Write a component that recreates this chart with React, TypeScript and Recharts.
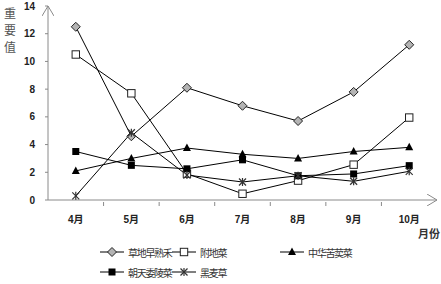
import { LineChart, Line, XAxis, YAxis, Legend } from 'recharts'

const months = ['4月', '5月', '6月', '7月', '8月', '9月', '10月']
const caodiZaoshuhe = [12.5, 4.6, 8.1, 6.8, 5.7, 7.8, 11.2]
const fudicai = [10.5, 7.7, 1.9, 0.45, 1.4, 2.55, 5.95]
const zhonghuaKumaicai = [2.1, 3.0, 3.75, 3.3, 3.0, 3.5, 3.8]
const chaotianWeilingcai = [3.5, 2.5, 2.25, 2.9, 1.75, 1.88, 2.48]
const heimaicao = [0.3, 4.85, 1.8, 1.3, 1.75, 1.35, 2.07]
const yTicks = [0, 2, 4, 6, 8, 10, 12, 14]

const seriesNames = ['草地早熟禾', '附地菜', '中华苦荬菜', '朝天委陵菜', '黑麦草']

const data = months.map((m, i) => ({
  month: m,
  s0: caodiZaoshuhe[i],
  s1: fudicai[i],
  s2: zhonghuaKumaicai[i],
  s3: chaotianWeilingcai[i],
  s4: heimaicao[i],
}))

const AXIS = '#8a8a8a'
const TICK_FONT = '"Liberation Sans", "Noto Sans CJK SC", sans-serif'
const CJK_FONT = '"Noto Sans CJK SC", sans-serif'

function Marker({ kind, cx, cy }: { kind: number; cx: number; cy: number }) {
  if (cx == null || cy == null) return null
  switch (kind) {
    case 0:
      return <path d={`M${cx},${cy - 4.5}L${cx + 4.5},${cy}L${cx},${cy + 4.5}L${cx - 4.5},${cy}Z`} fill="#b4b4b4" stroke="#222" strokeWidth={1} />
    case 1:
      return <rect x={cx - 3.7} y={cy - 3.7} width={7.4} height={7.4} fill="#fff" stroke="#222" strokeWidth={1} />
    case 2:
      return <path d={`M${cx},${cy - 4.5}L${cx + 4},${cy + 3}L${cx - 4},${cy + 3}Z`} fill="#000" />
    case 3:
      return <rect x={cx - 3.5} y={cy - 3.5} width={7} height={7} fill="#000" />
    default:
      return (
        <g stroke="#333" strokeWidth={1.2}>
          <line x1={cx - 3.5} y1={cy - 3.5} x2={cx + 3.5} y2={cy + 3.5} />
          <line x1={cx - 3.5} y1={cy + 3.5} x2={cx + 3.5} y2={cy - 3.5} />
          <line x1={cx} y1={cy - 4} x2={cx} y2={cy + 4} />
        </g>
      )
  }
}

const makeDot = (kind: number) => (props: any) => (
  <Marker key={`${kind}-${props.index}`} kind={kind} cx={props.cx} cy={props.cy} />
)

// month label at band centre, small tick at the band boundary
function MonthTick(props: any) {
  const { x, y, payload, index } = props
  const off = payload.offset ?? 0
  return (
    <g>
      {index > 0 && <line x1={x - off} y1={y} x2={x - off} y2={y + 4} stroke={AXIS} />}
      <text x={x} y={y + 21} textAnchor="middle" fontSize={10} fontWeight="bold" fill="#222" fontFamily={TICK_FONT}>
        {payload.value}
      </text>
    </g>
  )
}

function LegendIcon({ kind }: { kind: number }) {
  return (
    <svg width={24} height={12} style={{ display: 'block' }}>
      <line x1={0} y1={6} x2={24} y2={6} stroke="#000" strokeWidth={1} />
      <Marker kind={kind} cx={12} cy={6} />
    </svg>
  )
}

function LegendContent() {
  const rows = [
    [{ k: 0, w: 72 }, { k: 1, w: 108 }, { k: 2, w: 110 }],
    [{ k: 3, w: 72 }, { k: 4, w: 108 }],
  ]
  return (
    <div>
      {rows.map((row, r) => (
        <div key={r} style={{ display: 'flex', height: 20, alignItems: 'center' }}>
          {row.map(it => (
            <div key={it.k} style={{ display: 'flex', alignItems: 'center', width: it.w }}>
              <LegendIcon kind={it.k} />
              <span style={{ marginLeft: 4, fontSize: 10, letterSpacing: -1.3, color: '#333', fontFamily: CJK_FONT, whiteSpace: 'nowrap' }}>
                {seriesNames[it.k]}
              </span>
            </div>
          ))}
        </div>
      ))}
    </div>
  )
}

export default function App() {
  return (
    <div style={{ position: 'absolute', left: 0, top: 0, width: 441, height: 284, background: '#fff' }}>
      <LineChart width={441} height={284} data={data} margin={{ top: 6, right: 4, left: 0, bottom: 0 }}>
        <defs>
          <marker id="axisArrow" viewBox="0 0 10 12" refX={10} refY={6} markerWidth={10} markerHeight={12} markerUnits="userSpaceOnUse" orient="auto-start-reverse">
            <path d="M0,0L10,6L0,12" fill="none" stroke={AXIS} strokeWidth={1} />
          </marker>
        </defs>
        <XAxis
          dataKey="month"
          scale="band"
          axisLine={{ stroke: AXIS, markerEnd: 'url(#axisArrow)' }}
          tickLine={false}
          tickSize={0}
          tick={<MonthTick />}
          interval={0}
          height={44}
        />
        <YAxis
          domain={[0, 14]}
          ticks={yTicks}
          interval={0}
          width={48}
          axisLine={{ stroke: AXIS, markerStart: 'url(#axisArrow)' }}
          tickLine={{ stroke: AXIS }}
          tickSize={3}
          tickMargin={10}
          tick={{ fontSize: 10, fontWeight: 'bold', fill: '#222', fontFamily: TICK_FONT }}
        />
        <Legend content={<LegendContent />} wrapperStyle={{ position: 'absolute', left: 100, top: 242, width: 320, height: 40 }} />
        {['s0', 's1', 's2', 's3', 's4'].map((key, i) => (
          <Line
            key={key}
            type="linear"
            dataKey={key}
            name={seriesNames[i]}
            stroke="#000"
            strokeWidth={1}
            dot={makeDot(i)}
            activeDot={false}
            isAnimationActive={false}
          />
        ))}
      </LineChart>
      <div style={{ position: 'absolute', left: 3, top: 4, width: 14, fontSize: 12, lineHeight: '17px', color: '#555', fontFamily: CJK_FONT, textAlign: 'center' }}>
        重<br />要<br />值
      </div>
      <div style={{ position: 'absolute', left: 418, top: 225, fontSize: 11, fontWeight: 'bold', color: '#333', fontFamily: CJK_FONT }}>
        月份
      </div>
    </div>
  )
}
